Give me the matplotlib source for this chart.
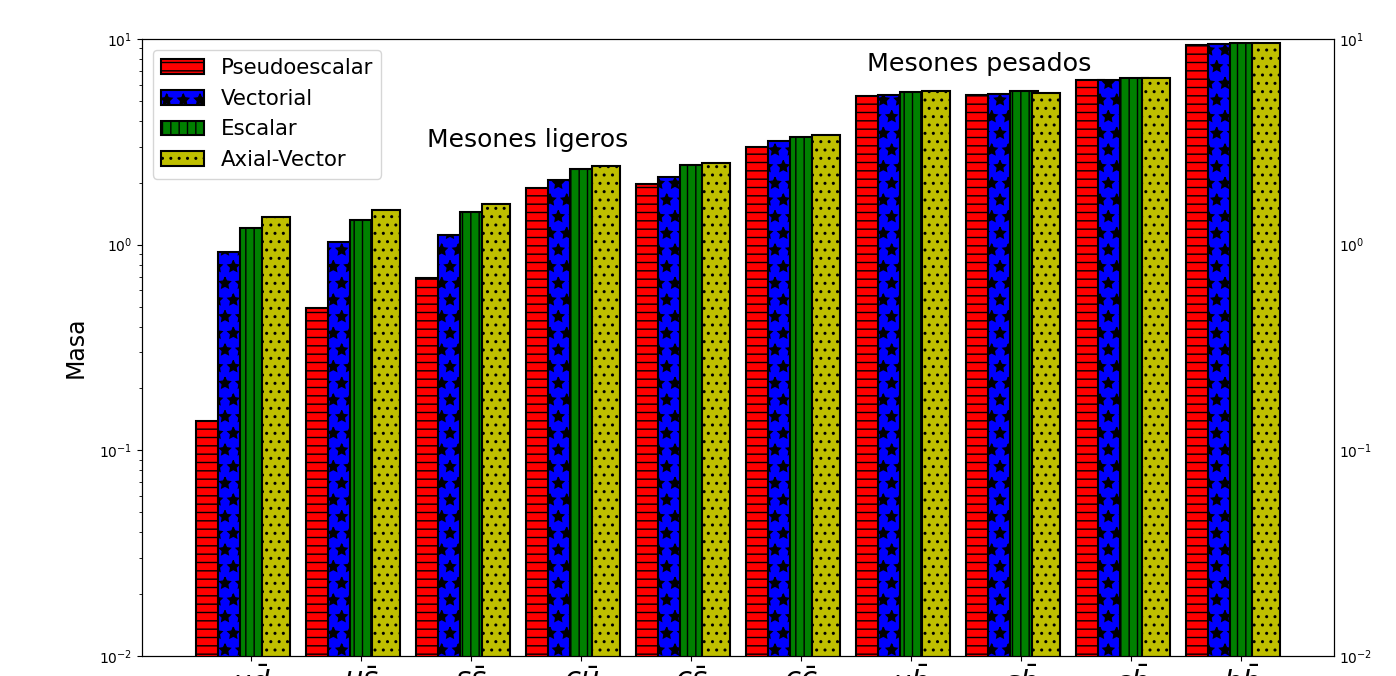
import numpy as np
import matplotlib
matplotlib.use("Agg")
import matplotlib.pyplot as plt

mesones = [r"$u\bar{d}$", r"$u\bar{s}$", r"$s\bar{s}$", r"$c\bar{u}$", r"$c\bar{s}$",
           r"$c\bar{c}$", r"$u\bar{b}$", r"$s\bar{b}$", r"$c\bar{b}$", r"$b\bar{b}$"]

pseudoescalar = [0.139, 0.49, 0.69, 1.88, 1.97, 2.97, 5.28, 5.32, 6.32, 9.38]
vectorial     = [0.92, 1.03, 1.11, 2.06, 2.14, 3.18, 5.32, 5.38, 6.32, 9.45]
escalar       = [1.21, 1.32, 1.44, 2.33, 2.43, 3.34, 5.50, 5.61, 6.48, 9.53]
axial_vector  = [1.36, 1.47, 1.58, 2.40, 2.50, 3.40, 5.56, 5.44, 6.48, 9.53]

x = np.arange(len(mesones))
ancho = 0.25

fig = plt.figure(figsize=(13.96, 6.76), dpi=100)
ax = fig.add_axes([0.1017, 0.0296, 0.8539, 0.9127])

series = [
    (pseudoescalar, "r", "--", "Pseudoescalar", -0.5),
    (vectorial, "b", "*", "Vectorial", -0.3),
    (escalar, "g", "||", "Escalar", -0.1),
    (axial_vector, "y", "..", "Axial-Vector", 0.1),
]
for valores, color, hatch, nombre, desp in series:
    ax.bar(x + desp, valores, width=ancho, align="edge", color=color,
           edgecolor="black", linewidth=1.5, hatch=hatch, label=nombre)

ax.set_yscale("log")
ax.set_ylim(1e-2, 1e1)
ax.set_ylabel("Masa", fontsize=17, labelpad=8)
ax.set_xticks(x)
ax.set_xticklabels(mesones, fontsize=21)

ax.text(1.6, 3.0, "Mesones ligeros", fontsize=18)
ax.text(5.6, 7.0, "Mesones pesados", fontsize=18.3)

ax.legend(loc="upper left", fontsize=15.3)

# eje derecho con la misma escala
ax2 = ax.twinx()
ax2.set_yscale("log")
ax2.set_ylim(1e-2, 1e1)
ax2.tick_params(which="both", length=0)

fig.savefig("out.png", dpi=100)
